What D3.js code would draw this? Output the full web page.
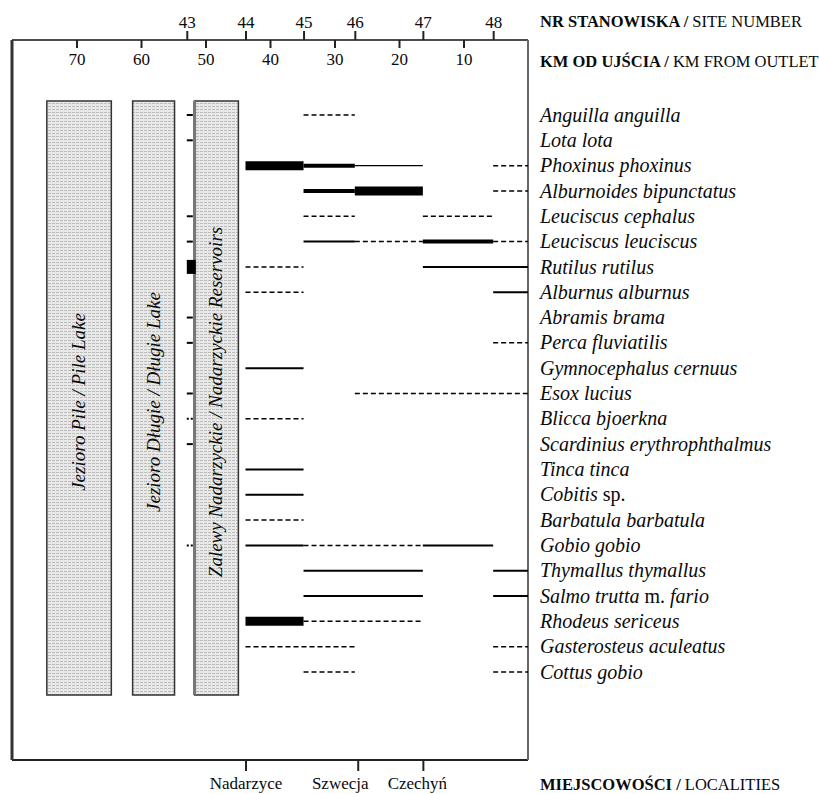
<!DOCTYPE html>
<html>
<head>
<meta charset="utf-8">
<script src="https://cdn.jsdelivr.net/npm/d3@7"></script>
<style>
body { margin: 0; background: #fff; }
svg text { font-family: "Liberation Serif", "Times New Roman", serif; fill: #0a0a0a; }
</style>
</head>
<body>
<div id="chart"></div>
<script>
// gatunki (rows, top to bottom)
var species = [
    "Anguilla anguilla", "Lota lota", "Phoxinus phoxinus", "Alburnoides bipunctatus",
    "Leuciscus cephalus", "Leuciscus leuciscus", "Rutilus rutilus", "Alburnus alburnus",
    "Abramis brama", "Perca fluviatilis", "Gymnocephalus cernuus", "Esox lucius",
    "Blicca bjoerkna", "Scardinius erythrophthalmus", "Tinca tinca", "Cobitis sp.",
    "Barbatula barbatula", "Gobio gobio", "Thymallus thymallus", "Salmo trutta m. fario",
    "Rhodeus sericeus", "Gasterosteus aculeatus", "Cottus gobio"
];

// stanowiska and their distance from the outlet (km)
var siteNumbers = [43, 44, 45, 46, 47, 48];
var siteKm = [52.9, 43.8, 34.8, 26.85, 16.3, 5.4];
var kmTicks = [70, 60, 50, 40, 30, 20, 10];

var localities = ["Nadarzyce", "Szwecja", "Czechyń"];
var localityKm = [43.8, 26.4, 16.3];

var lakes = ["Jezioro Pile / Pile Lake", "Jezioro Długie / Długie Lake", "Zalewy Nadarzyckie / Nadarzyckie Reservoirs"];
var lakeKmFrom = [74.6, 61.3, 51.7];
var lakeKmTo = [64.6, 54.8, 44.9];

// occurrence between sites: [species, from site, to site ("U" = outlet), abundance class]
var occurrence = [
    ["Anguilla anguilla", 45, 46, "dashed"],
    ["Phoxinus phoxinus", 44, 45, "thick"],
    ["Phoxinus phoxinus", 45, 46, "medium"],
    ["Phoxinus phoxinus", 46, 47, "thin"],
    ["Phoxinus phoxinus", 48, "U", "dashed"],
    ["Alburnoides bipunctatus", 45, 46, "medium"],
    ["Alburnoides bipunctatus", 46, 47, "thick"],
    ["Alburnoides bipunctatus", 48, "U", "dashed"],
    ["Leuciscus cephalus", 45, 46, "dashed"],
    ["Leuciscus cephalus", 47, 48, "dashed"],
    ["Leuciscus leuciscus", 45, 46, "solid"],
    ["Leuciscus leuciscus", 46, 47, "dashed"],
    ["Leuciscus leuciscus", 47, 48, "medium"],
    ["Leuciscus leuciscus", 48, "U", "dashed"],
    ["Rutilus rutilus", 44, 45, "dashed"],
    ["Rutilus rutilus", 47, "U", "solid"],
    ["Alburnus alburnus", 44, 45, "dashed"],
    ["Alburnus alburnus", 48, "U", "solid"],
    ["Perca fluviatilis", 48, "U", "dashed"],
    ["Gymnocephalus cernuus", 44, 45, "solid"],
    ["Esox lucius", 46, "U", "dashed"],
    ["Blicca bjoerkna", 44, 45, "dashed"],
    ["Tinca tinca", 44, 45, "solid"],
    ["Cobitis sp.", 44, 45, "solid"],
    ["Barbatula barbatula", 44, 45, "dashed"],
    ["Gobio gobio", 44, 45, "solid"],
    ["Gobio gobio", 45, 47, "dashed"],
    ["Gobio gobio", 47, 48, "solid"],
    ["Thymallus thymallus", 45, 47, "solid"],
    ["Thymallus thymallus", 48, "U", "solid"],
    ["Salmo trutta m. fario", 45, 47, "solid"],
    ["Salmo trutta m. fario", 48, "U", "solid"],
    ["Rhodeus sericeus", 44, 45, "thick"],
    ["Rhodeus sericeus", 45, 47, "dashed"],
    ["Gasterosteus aculeatus", 44, 46, "dashed"],
    ["Gasterosteus aculeatus", 48, "U", "dashed"],
    ["Cottus gobio", 45, 46, "dashed"],
    ["Cottus gobio", 48, "U", "dashed"]
];

// single records at site 43 (reservoir)
var site43Species = [
    "Anguilla anguilla", "Lota lota", "Leuciscus cephalus", "Leuciscus leuciscus",
    "Rutilus rutilus", "Abramis brama", "Perca fluviatilis", "Esox lucius",
    "Blicca bjoerkna", "Scardinius erythrophthalmus", "Gobio gobio"
];
var site43Class = [
    "solid", "solid", "solid", "solid",
    "thick", "solid", "solid", "solid",
    "dashed", "solid", "dashed"
];

var width = 819;
var height = 794;
var frame = { left: 12, right: 528, top: 40, bottom: 760 };

var styles = {
    thick: { w: 9, dash: null },
    medium: { w: 4, dash: null },
    solid: { w: 2, dash: null },
    thin: { w: 1.2, dash: null },
    dashed: { w: 1.5, dash: "5,3" }
};

function kmOf(site) {
    if (site === "U") return 0;
    return siteKm[siteNumbers.indexOf(site)];
}

var x = d3.scaleLinear().domain([80, 0]).range([frame.left, frame.right]);
var y = d3.scalePoint().domain(species).range([115, 672]);

var svg = d3.select("#chart").append("svg")
    .attr("width", width)
    .attr("height", height);

var defs = svg.append("defs");
var pat = defs.append("pattern")
    .attr("id", "lakeFill")
    .attr("width", 4)
    .attr("height", 3)
    .attr("patternUnits", "userSpaceOnUse");
pat.append("rect").attr("width", 4).attr("height", 3).attr("fill", "#e8e8e8");
pat.append("rect").attr("x", 0).attr("y", 1).attr("width", 3).attr("height", 1).attr("fill", "#bdbdbd");

// frame
svg.append("line")
    .attr("x1", frame.left).attr("x2", frame.right)
    .attr("y1", frame.top).attr("y2", frame.top)
    .attr("stroke", "#111").attr("stroke-width", 1.5);
svg.append("line")
    .attr("x1", frame.left).attr("x2", frame.right)
    .attr("y1", frame.bottom).attr("y2", frame.bottom)
    .attr("stroke", "#222").attr("stroke-width", 2);
svg.append("line")
    .attr("x1", frame.left).attr("x2", frame.left)
    .attr("y1", frame.top).attr("y2", frame.bottom)
    .attr("stroke", "#333").attr("stroke-width", 3);
svg.append("line")
    .attr("x1", frame.right).attr("x2", frame.right)
    .attr("y1", frame.top).attr("y2", frame.bottom)
    .attr("stroke", "#666").attr("stroke-width", 2);

// site number axis (above frame)
var siteAxis = d3.axisTop(x)
    .tickValues(siteKm)
    .tickSize(9)
    .tickPadding(3)
    .tickFormat(function (d, i) { return siteNumbers[i]; });
var gSite = svg.append("g")
    .attr("transform", "translate(0," + frame.top + ")")
    .call(siteAxis);

// km axis (inside frame)
var kmAxis = d3.axisBottom(x)
    .tickValues(kmTicks)
    .tickSize(8)
    .tickPadding(5);
var gKm = svg.append("g")
    .attr("transform", "translate(0," + frame.top + ")")
    .call(kmAxis);

// localities axis (below frame)
var locAxis = d3.axisBottom(x)
    .tickValues(localityKm)
    .tickSize(11)
    .tickPadding(6)
    .tickFormat(function (d, i) { return localities[i]; });
var gLoc = svg.append("g")
    .attr("transform", "translate(0," + frame.bottom + ")")
    .call(locAxis);

[gSite, gKm, gLoc].forEach(function (g) {
    g.select(".domain").remove();
    g.selectAll(".tick line").attr("stroke", "#222").attr("stroke-width", 2);
    g.selectAll(".tick text")
        .attr("font-family", "Liberation Serif, serif")
        .attr("font-size", "17px")
        .attr("fill", "#0a0a0a");
});
gLoc.selectAll(".tick text")
    .attr("dx", function (d, i) { return [0, -18, -6][i]; });

// lakes
lakes.forEach(function (name, i) {
    var x0 = x(lakeKmFrom[i]);
    var x1 = x(lakeKmTo[i]);
    svg.append("rect")
        .attr("x", x0)
        .attr("y", 101)
        .attr("width", x1 - x0)
        .attr("height", 594)
        .attr("fill", "url(#lakeFill)")
        .attr("stroke", "#333")
        .attr("stroke-width", 1.5);
    svg.append("text")
        .attr("transform", "translate(" + ((x0 + x1) / 2 + 6) + "," + 402 + ") rotate(-90)")
        .attr("text-anchor", "middle")
        .attr("font-size", "19px")
        .attr("font-style", "italic")
        .text(name);
});
svg.append("line")
    .attr("x1", x(lakeKmFrom[2])).attr("x2", x(lakeKmFrom[2]))
    .attr("y1", 101).attr("y2", 695)
    .attr("stroke", "#777").attr("stroke-width", 3);

// site 43 records
site43Species.forEach(function (sp, i) {
    var x0 = x(siteKm[0]);
    svg.append("line")
        .attr("x1", x0)
        .attr("x2", x0 + (site43Class[i] === "thick" ? 9 : 6))
        .attr("y1", y(sp))
        .attr("y2", y(sp))
        .attr("stroke", "#000")
        .attr("stroke-width", site43Class[i] === "thick" ? 14 : 2)
        .attr("stroke-dasharray", site43Class[i] === "dashed" ? "2,2" : null);
});

// occurrence segments
svg.selectAll(".seg")
    .data(occurrence)
    .enter()
    .append("line")
    .attr("class", "seg")
    .attr("x1", function (d) { return x(kmOf(d[1])); })
    .attr("x2", function (d) { return x(kmOf(d[2])); })
    .attr("y1", function (d) { return y(d[0]); })
    .attr("y2", function (d) { return y(d[0]); })
    .attr("stroke", "#000")
    .attr("stroke-width", function (d) { return styles[d[3]].w; })
    .attr("stroke-dasharray", function (d) { return styles[d[3]].dash; });

// species names
var labels = svg.selectAll(".sp")
    .data(species)
    .enter()
    .append("text")
    .attr("class", "sp")
    .attr("x", 540)
    .attr("y", function (d) { return y(d); })
    .attr("dy", "0.33em")
    .attr("font-size", "20px");
labels.each(function (d) {
    var t = d3.select(this);
    var parts = d.split(" ");
    parts.forEach(function (p, k) {
        var plain = (p === "sp." || p === "m.");
        t.append("tspan")
            .attr("font-style", plain ? "normal" : "italic")
            .text((k > 0 ? " " : "") + p);
    });
});

// headers
function header(yPos, bold, normal) {
    var t = svg.append("text")
        .attr("x", 540)
        .attr("y", yPos)
        .attr("font-size", "16.5px");
    t.append("tspan").attr("font-weight", "bold").text(bold);
    t.append("tspan").text(normal);
}
header(27, "NR STANOWISKA / ", "SITE NUMBER");
header(67, "KM OD UJŚCIA / ", "KM FROM OUTLET");
header(790, "MIEJSCOWOŚCI / ", "LOCALITIES");
</script>
</body>
</html>
